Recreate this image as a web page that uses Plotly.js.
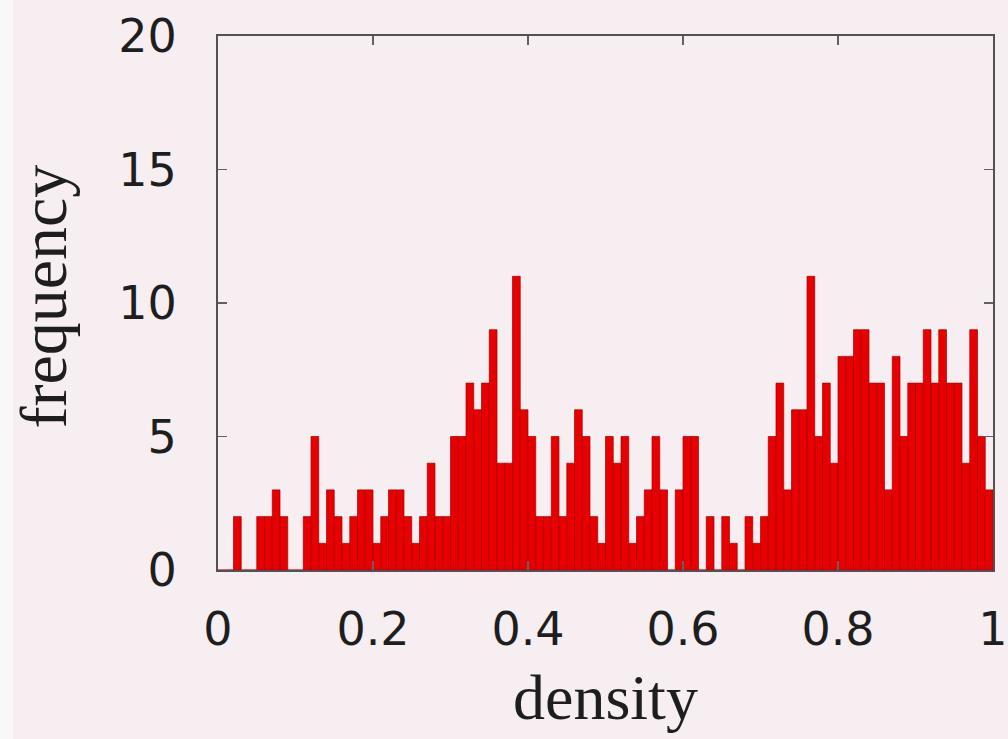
<!DOCTYPE html>
<html>
<head>
<meta charset="utf-8">
<script src="https://cdn.plot.ly/plotly-3.0.1.min.js"></script>
<style>
  html, body { margin: 0; padding: 0; background: rgb(247,238,241); }
  #chart { width: 1008px; height: 739px; }
</style>
</head>
<body>
<div id="chart"></div>
<script>
// Histogram of density values: 100 bins of width 0.01 over [0, 1]
const binStart = 0;
const binWidth = 0.01;
const counts = [
  0, 0, 2, 0, 0, 2, 2, 3, 2, 0,
  0, 2, 5, 1, 3, 2, 1, 2, 3, 3,
  1, 2, 3, 3, 2, 1, 2, 4, 2, 2,
  5, 5, 7, 6, 7, 9, 4, 4, 11, 6,
  5, 2, 2, 5, 2, 4, 6, 5, 2, 1,
  5, 4, 5, 1, 2, 3, 5, 3, 0, 3,
  5, 5, 0, 2, 0, 2, 1, 0, 2, 1,
  2, 5, 7, 3, 6, 6, 11, 5, 7, 4,
  8, 8, 9, 9, 7, 7, 3, 8, 5, 7,
  7, 9, 7, 9, 7, 7, 4, 9, 5, 3
];
const xTickVals = [0, 0.2, 0.4, 0.6, 0.8, 1];
const xTickText = ['0', '0.2', '0.4', '0.6', '0.8', '1'];
const yTickVals = [0, 5, 10, 15, 20];
const yTickText = ['0', '5', '10', '15', '20'];
const xTitle = 'density';
const yTitle = 'frequency';

const binCenters = counts.map((_, i) => binStart + (i + 0.5) * binWidth);

const trace = {
  type: 'bar',
  x: binCenters,
  y: counts,
  width: binWidth,
  marker: { color: 'rgb(232,0,0)', line: { color: 'rgb(165,0,0)', width: 0.7 } },
  hoverinfo: 'x+y'
};

const axisCommon = {
  showgrid: false,
  zeroline: false,
  showline: true,
  linecolor: 'rgb(85,80,85)',
  linewidth: 2,
  mirror: 'ticks',
  ticks: 'inside',
  ticklen: 9,
  tickwidth: 1.5,
  tickcolor: 'rgb(100,95,100)',
  tickfont: { family: 'DejaVu Sans', size: 46, color: 'rgb(30,30,30)' },
  automargin: false
};

const layout = {
  width: 1008,
  height: 739,
  margin: { l: 218, r: 15, t: 36, b: 169, pad: 0 },
  paper_bgcolor: 'rgb(247,238,241)',
  plot_bgcolor: 'rgb(247,238,241)',
  bargap: 0,
  showlegend: false,
  xaxis: Object.assign({}, axisCommon, {
    range: [0, 1],
    tickmode: 'array',
    tickvals: xTickVals,
    ticktext: xTickText,
    ticklabelstandoff: 18
  }),
  yaxis: Object.assign({}, axisCommon, {
    range: [0, 20],
    tickmode: 'array',
    tickvals: yTickVals,
    ticktext: yTickText,
    ticklabelstandoff: 30
  }),
  annotations: [
    {
      text: xTitle, xref: 'paper', yref: 'paper', x: 0.5, y: 0,
      xanchor: 'center', yanchor: 'top', yshift: -90, showarrow: false,
      font: { family: 'Liberation Serif', size: 64, color: 'rgb(30,30,30)' }
    },
    {
      text: yTitle, xref: 'paper', yref: 'paper', x: 0, y: 0.5,
      xanchor: 'right', yanchor: 'middle', xshift: -137, yshift: 6, textangle: -90, showarrow: false,
      font: { family: 'Liberation Serif', size: 66, color: 'rgb(30,30,30)' }
    }
  ],
  shapes: [
    { type: 'rect', xref: 'paper', yref: 'paper', x0: -0.2813, x1: -0.2645, y0: -0.32, y1: 1.07,
      fillcolor: 'rgb(250,247,248)', line: { width: 0 }, layer: 'below' }
  ]
};

Plotly.newPlot('chart', [trace], layout, { displayModeBar: false, staticPlot: true });
</script>
</body>
</html>
